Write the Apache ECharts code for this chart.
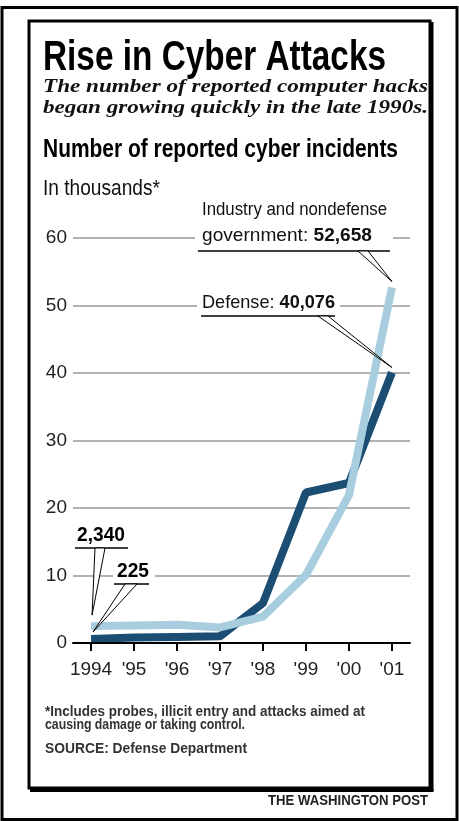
<!DOCTYPE html>
<html>
<head>
<meta charset="utf-8">
<script src="https://cdn.jsdelivr.net/npm/echarts@6/dist/echarts.min.js"></script>
<style>
  html, body { margin: 0; padding: 0; background: #fff; }
  #main { width: 459px; height: 821px; }
</style>
</head>
<body>
<div id="main"></div>
<script>
// 数据
var years = [1994, 1995, 1996, 1997, 1998, 1999, 2000, 2001];
var yearLabels = ['1994', "'95", "'96", "'97", "'98", "'99", "'00", "'01"];
// thousands of incidents
var industry = [2.5, 2.6, 2.7, 2.3, 3.9, 10.1, 21.9, 52.658];
var defense = [0.6, 0.8, 0.9, 1.0, 5.9, 22.3, 23.7, 40.076];
var yMin = 0, yMax = 60, yStep = 10;

var SANS = '"Liberation Sans", Arial, sans-serif';
var NARROW = '"Liberation Sans Narrow", "Liberation Sans", sans-serif';
var SERIF = '"Liberation Serif", "DejaVu Serif", serif';
var DARK = '#1c4d73';
var LIGHT = '#a7cddf';

var chart = echarts.init(document.getElementById('main'));

var measureCtx = document.createElement('canvas').getContext('2d');
function textWidth(str, font) {
  measureCtx.font = font;
  return measureCtx.measureText(str).width;
}

// text squeezed to a given width (condensed newspaper type)
function label(id, x, y, parts, size, family, width, color) {
  var total = 0, rich = {}, str = '';
  parts.forEach(function (p, i) {
    var w = p[1] || 'normal', st = p[2] || 'normal';
    total += textWidth(p[0], st + ' ' + w + ' ' + size + 'px ' + family);
    rich['p' + i] = { fontSize: size, fontFamily: family, fontWeight: w, fontStyle: st, fill: color || '#111' };
    str += '{p' + i + '|' + p[0] + '}';
  });
  return {
    type: 'text', id: id, x: x, y: y, scaleX: width / total, z: 20,
    style: { text: str, rich: rich, align: 'left', verticalAlign: 'middle' }
  };
}

function hline(id, x1, x2, y, w) {
  return { type: 'line', id: id, z: 20, shape: { x1: x1, y1: y, x2: x2, y2: y }, style: { stroke: '#000', lineWidth: w || 1.5 } };
}

function mask(id, x, y, w, h) {
  return { type: 'rect', id: id, z: 15, shape: { x: x, y: y, width: w, height: h }, style: { fill: '#fff' } };
}

var graphics = [
  // frames
  { type: 'rect', id: 'outer', z: 30, shape: { x: 2, y: 7.5, width: 455, height: 812 }, style: { fill: null, stroke: '#000', lineWidth: 3 } },
  { type: 'rect', id: 'inner', z: 30, shape: { x: 29, y: 21, width: 401, height: 767 }, style: { fill: null, stroke: '#000', lineWidth: 3 } },
  { type: 'line', id: 'shadowR', z: 30, shape: { x1: 432, y1: 22, x2: 432, y2: 791 }, style: { stroke: '#000', lineWidth: 3 } },
  { type: 'line', id: 'shadowB', z: 30, shape: { x1: 30, y1: 790.5, x2: 433.5, y2: 790.5 }, style: { stroke: '#000', lineWidth: 3 } },

  // headings
  label('title', 43, 58, [['Rise in Cyber Attacks', 'bold']], 43, SANS, 343, '#000'),
  label('sub1', 43, 87, [['The number of reported computer hacks', 'bold', 'italic']], 19, SERIF, 385, '#111'),
  label('sub2', 43, 108, [['began growing quickly in the late 1990s.', 'bold', 'italic']], 19, SERIF, 385, '#111'),
  label('head', 43, 150, [['Number of reported cyber incidents', 'bold']], 26, SANS, 355, '#000'),
  label('unit', 43, 189, [['In thousands*']], 22, SANS, 117, '#111'),

  // annotation masks over gridlines
  mask('m1', 195, 200, 198, 48),
  mask('m2', 197, 294, 143, 19),
  mask('m3', 113, 561, 42, 20),
  mask('m4', 74, 524, 56, 21),

  label('ind1', 202, 210, [['Industry and nondefense']], 19, SANS, 185, '#111'),
  label('ind2', 202, 236, [['government: '], ['52,658', 'bold']], 19, SANS, 170, '#111'),
  hline('indU', 198, 390, 251),
  label('def', 202, 303, [['Defense: '], ['40,076', 'bold']], 19, SANS, 133, '#111'),
  hline('defU', 201, 335, 316),
  label('v2340', 77, 535, [['2,340', 'bold']], 21, SANS, 48, '#000'),
  hline('u2340', 75, 128, 548),
  label('v225', 117, 571, [['225', 'bold']], 21, SANS, 32, '#000'),
  hline('u225', 114, 149, 584),

  // footnotes
  label('note1', 45, 712, [['*Includes probes, illicit entry and attacks aimed at', 'bold']], 15, SANS, 320, '#333'),
  label('note2', 45, 725, [['causing damage or taking control.', 'bold']], 15, SANS, 200, '#333'),
  label('src', 45, 749, [['SOURCE: Defense Department', 'bold']], 15, SANS, 202, '#333'),
  label('wp', 268, 801, [['THE WASHINGTON POST', 'bold']], 14, SANS, 160, '#222')
];

var option = {
  animation: false,
  backgroundColor: '#fff',
  grid: { left: 73, right: 49, top: 238, bottom: 178, outerBoundsMode: 'none' },
  xAxis: {
    type: 'value',
    min: 1993.58,
    max: 2001.42,
    z: 5,
    axisLine: { show: true, lineStyle: { color: '#000', width: 2 } },
    axisTick: { show: true, customValues: years, length: 8, lineStyle: { color: '#000', width: 2 } },
    axisLabel: {
      customValues: years,
      margin: 17,
      color: '#222',
      fontSize: 19,
      fontFamily: NARROW,
      formatter: function (v) { return yearLabels[years.indexOf(v)]; }
    },
    splitLine: { show: false }
  },
  yAxis: {
    type: 'value',
    min: yMin,
    max: yMax,
    interval: yStep,
    axisLine: { show: false },
    axisTick: { show: false },
    axisLabel: { margin: 6, color: '#222', fontSize: 19, fontFamily: NARROW },
    splitLine: { lineStyle: { color: '#999', width: 1.5 } }
  },
  series: [
    {
      name: 'Defense',
      type: 'line',
      data: years.map(function (y, i) { return [y, defense[i]]; }),
      symbol: 'none',
      lineStyle: { color: DARK, width: 8, cap: 'butt' },
      z: 3
    },
    {
      name: 'Industry and nondefense government',
      type: 'line',
      data: years.map(function (y, i) { return [y, industry[i]]; }),
      symbol: 'none',
      lineStyle: { color: LIGHT, width: 8, cap: 'butt' },
      z: 4
    }
  ],
  graphic: graphics
};
chart.setOption(option);

// leader wedges from the underlines to the data points
function wedge(id, b1, b2, seriesData, idx, dx, dy) {
  var p = chart.convertToPixel({ gridIndex: 0 }, [years[idx], seriesData[idx]]);
  var tip = [p[0] + dx, p[1] + dy];
  return {
    type: 'polygon', id: id, z: 21,
    shape: { points: [[b1, b2[1]], tip, [b2[0], b2[1]]] },
    style: { fill: '#fff', stroke: '#000', lineWidth: 1 }
  };
}
var last = years.length - 1;
chart.setOption({
  graphic: [
    wedge('wInd', 358, [368, 251], industry, last, 0, -6),
    wedge('wDef', 318, [328, 316], defense, last, 0, -5),
    wedge('w2340', 95, [105, 548], industry, 0, 1, -11),
    wedge('w225', 125, [137, 584], defense, 0, 2, -7)
  ]
});
</script>
</body>
</html>
